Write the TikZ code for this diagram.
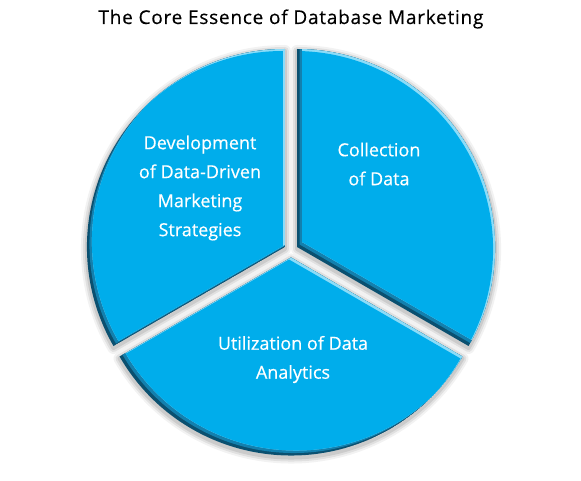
\documentclass[tikz,border=0pt]{standalone}
\usepackage{fontspec}
\setmainfont{Open Sans}
\definecolor{piecyan}{HTML}{00ADEB}
\definecolor{piemid}{HTML}{1380AE}
\definecolor{piedark}{HTML}{0A5070}
\definecolor{pielight}{HTML}{8CDCF8}
\newcommand{\slice}[2]{(0,0) -- (#1:198) arc[start angle=#1, end angle=#2, radius=198] -- cycle}
\tikzset{
    titletext/.style={font=\fontsize{19}{22}\selectfont\addfontfeatures{LetterSpace=4, FakeBold=0.3}, text=black, anchor=base},
    slicelabel/.style={font=\fontsize{18}{29}\selectfont\addfontfeatures{FakeBold=0.4}, text=white, align=center}
}

\begin{document}
\begin{tikzpicture}[x=1pt, y=1pt]
    \useasboundingbox (0,0) rectangle (581,480);
    \fill[white] (0,0) rectangle (581,480);
    \node[titletext] (ttl) at (291, 456) {The Core Essence of Database Marketing};
    \coordinate (pc) at (291, 229.5);
    \foreach \a/\b in {-30/90, 90/210, 210/330} {
        \begin{scope}[shift={(pc)}, shift={({(\a+\b)/2}:7)}, yshift=-2]
            \foreach \w/\o in {12/0.05, 8/0.07, 4/0.09}
                \draw[line width=\w, black, opacity=\o, line join=round] \slice{\a}{\b};
        \end{scope}
    }
    \foreach \a/\b in {-30/90, 90/210, 210/330} {
        \begin{scope}[shift={(pc)}, shift={({(\a+\b)/2}:7)}]
            \clip \slice{\a}{\b};
            \fill[piedark] \slice{\a}{\b};
            \fill[piemid, shift={(2.5,2.5)}] \slice{\a}{\b};
            \fill[pielight, shift={(5,5)}] \slice{\a}{\b};
            \begin{scope}
                \clip[shift={(-2,-2)}] \slice{\a}{\b};
                \fill[piecyan, shift={(5,5)}] \slice{\a}{\b};
            \end{scope}
        \end{scope}
    }
    \node[slicelabel] (collection) at (379, 316) {Collection\\of Data};
    \node[slicelabel] (development) at (200, 292) {Development\\of Data-Driven\\Marketing\\Strategies};
    \node[slicelabel] (utilization) at (293, 120.5) {Utilization of Data\\Analytics};
\end{tikzpicture}
\end{document}
